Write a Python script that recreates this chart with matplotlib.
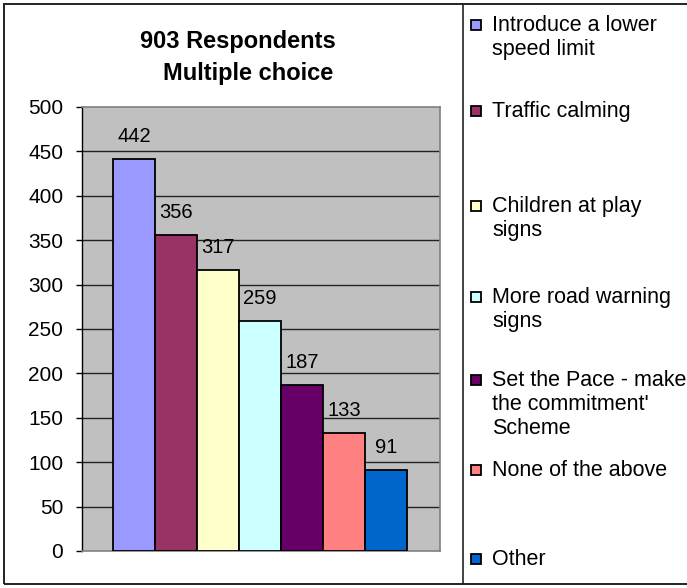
import matplotlib
matplotlib.use("Agg")
import matplotlib.pyplot as plt
import matplotlib.patches as mpatches
import matplotlib.lines as mlines

plt.rcParams['font.family'] = ['Liberation Sans', 'DejaVu Sans']

categories = ["Introduce a lower\nspeed limit",
              "Traffic calming",
              "Children at play\nsigns",
              "More road warning\nsigns",
              "Set the Pace - make\nthe commitment'\nScheme",
              "None of the above",
              "Other"]
values = [442, 356, 317, 259, 187, 133, 91]
colors = ["#9999FF", "#993366", "#FFFFCC", "#CCFFFF", "#660066", "#FF8080", "#0066CC"]
yticks = [0, 50, 100, 150, 200, 250, 300, 350, 400, 450, 500]

W, H = 687, 588
fig = plt.figure(figsize=(W / 100, H / 100), dpi=100)

def px(x, y):
    # pixel coords (from top-left) -> figure fraction
    return x / W, 1 - y / H

# plot area
x0, x1, ytop, ybot = 82, 440, 107, 551
ax = fig.add_axes([x0 / W, 1 - ybot / H, (x1 - x0) / W, (ybot - ytop) / H])
ax.set_facecolor("#C0C0C0")

xs = list(range(len(values)))
ax.bar(xs, values, width=1.0, color=colors, edgecolor="black", linewidth=1.3, zorder=3)
for x, v in zip(xs, values):
    ax.text(x, v + 19, str(v), ha="center", va="baseline", fontsize=14.5, zorder=4)

ax.set_ylim(0, 500)
ax.set_xlim(-1.24, 7.29)
ax.set_yticks(yticks)
ax.set_xticks([])
ax.tick_params(axis="y", direction="out", length=4.5, width=1, colors="black", labelsize=15, pad=9)
for y in yticks[1:-1]:
    ax.axhline(y, color="#222222", linewidth=1, zorder=1)

for s in ["top", "right", "bottom"]:
    ax.spines[s].set_color("#808080")
    ax.spines[s].set_linewidth(1.2)
ax.spines["left"].set_color("black")
ax.spines["left"].set_linewidth(1)

# titles
fig.text(*px(238, 48), "903 Respondents", ha="center", va="baseline", fontsize=17, fontweight="bold")
fig.text(*px(248, 80), "Multiple choice", ha="center", va="baseline", fontsize=17, fontweight="bold")

# outer chart border and legend separator
fig.add_artist(mpatches.Rectangle(px(4, 584), (W + 10) / W, 580 / H, fill=False,
                                  edgecolor="#222222", linewidth=1.4, transform=fig.transFigure))
fig.add_artist(mlines.Line2D([463 / W, 463 / W], [1 - 4 / H, 1 - 584 / H],
                             color="#222222", linewidth=1.2, transform=fig.transFigure))

# legend
leg_y = [25, 111, 206, 297, 380, 470, 559]
for lab, col, y in zip(categories, colors, leg_y):
    fig.add_artist(mpatches.Rectangle(px(471, y + 5), 10 / W, 10 / H, facecolor=col,
                                      edgecolor="black", linewidth=1.3, transform=fig.transFigure))
    fig.text(*px(492, y - 10), lab, ha="left", va="top", fontsize=15.5, linespacing=1.2)

fig.savefig("out.png", dpi=100)
